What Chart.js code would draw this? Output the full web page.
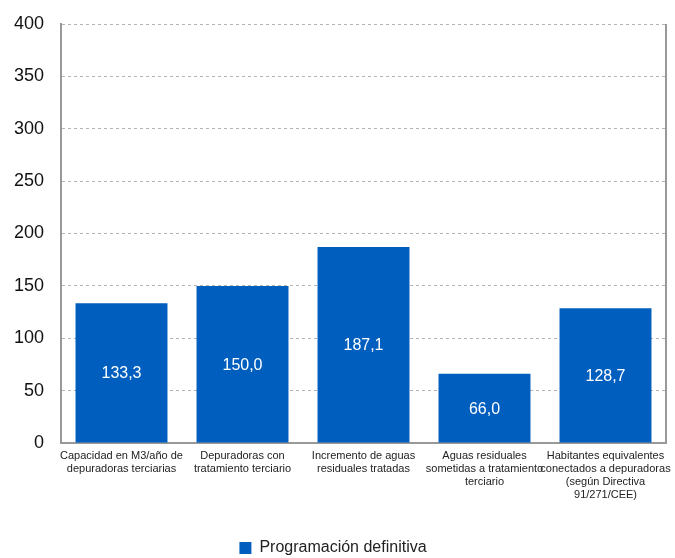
<!DOCTYPE html>
<html>
<head>
<meta charset="utf-8">
<script src="https://cdn.jsdelivr.net/npm/chart.js@4"></script>
<style>
  html, body { margin: 0; padding: 0; background: #fff; }
  #wrap { width: 675px; height: 558px; }
</style>
</head>
<body>
<div id="wrap"><canvas id="chart_prog"></canvas></div>
<script>
const categories = [
    ["Capacidad en M3/año de", "depuradoras terciarias"],
    ["Depuradoras con", "tratamiento terciario"],
    ["Incremento de aguas", "residuales tratadas"],
    ["Aguas residuales", "sometidas a tratamiento", "terciario"],
    ["Habitantes equivalentes", "conectados a depuradoras", "(según Directiva", "91/271/CEE)"],
];
const seriesName = "Programación definitiva";
const values = [133.3, 150.0, 187.1, 66.0, 128.7];
const yTicks = [0, 50, 100, 150, 200, 250, 300, 350, 400];

const FONT = "'Liberation Sans', Arial, sans-serif";

// value labels in the middle of each bar + right border of plot
const barLabels = {
    id: "barLabels",
    afterDatasetsDraw(chart) {
        const ctx = chart.ctx;
        const meta = chart.getDatasetMeta(0);
        ctx.save();
        ctx.fillStyle = "#ffffff";
        ctx.font = "16px " + FONT;
        ctx.textAlign = "center";
        ctx.textBaseline = "middle";
        meta.data.forEach((bar, i) => {
            const txt = values[i].toFixed(1).replace(".", ",");
            ctx.fillText(txt, bar.x, (bar.y + bar.base) / 2 + 1);
        });
        const a = chart.chartArea;
        ctx.strokeStyle = "#999999";
        ctx.lineWidth = 2;
        ctx.beginPath();
        ctx.moveTo(a.right, a.top);
        ctx.lineTo(a.right, a.bottom);
        ctx.stroke();
        ctx.restore();
    },
};

const config = {
    type: "bar",
    data: {
        labels: categories,
        datasets: [
            {
                label: seriesName,
                data: values,
                backgroundColor: "#005FBE",
                borderWidth: 0,
                categoryPercentage: 1.0,
                barPercentage: 0.76,
            },
        ],
    },
    options: {
        responsive: true,
        maintainAspectRatio: false,
        animation: false,
        layout: { padding: { top: 24, right: 9, left: 0, bottom: -8 } },
        plugins: {
            tooltip: { enabled: false },
            legend: {
                position: "bottom",
                labels: {
                    boxWidth: 12,
                    boxHeight: 12,
                    padding: 0,
                    color: "#222222",
                    font: { family: FONT, size: 16 },
                },
            },
        },
        scales: {
            x: {
                grid: { display: false, drawTicks: false },
                border: { display: true, color: "#999999", width: 2 },
                ticks: {
                    color: "#222222",
                    font: { family: FONT, size: 11, lineHeight: 1.2 },
                    padding: 6,
                    maxRotation: 0,
                    autoSkip: false,
                },
                afterFit(scale) {
                    scale.height = 97;
                    scale.paddingLeft = 0;
                    scale.paddingRight = 0;
                },
            },
            y: {
                min: 0,
                max: 400,
                afterBuildTicks(scale) { scale.ticks = yTicks.map(v => ({ value: v })); },
                grid: {
                    color: "#b4b4b4",
                    lineWidth: 1,
                    drawTicks: false,
                },
                border: { display: true, color: "#999999", width: 2, dash: [3, 3] },
                ticks: {
                    color: "#111111",
                    font: { family: FONT, size: 18 },
                    padding: 17,
                },
                afterFit(scale) {
                    scale.width = 61;
                    scale.paddingTop = 0;
                    scale.paddingBottom = 0;
                },
            },
        },
    },
    plugins: [barLabels],
};

const ctxProg = document.getElementById("chart_prog");
const progChart = new Chart(ctxProg, config);
</script>
</body>
</html>
